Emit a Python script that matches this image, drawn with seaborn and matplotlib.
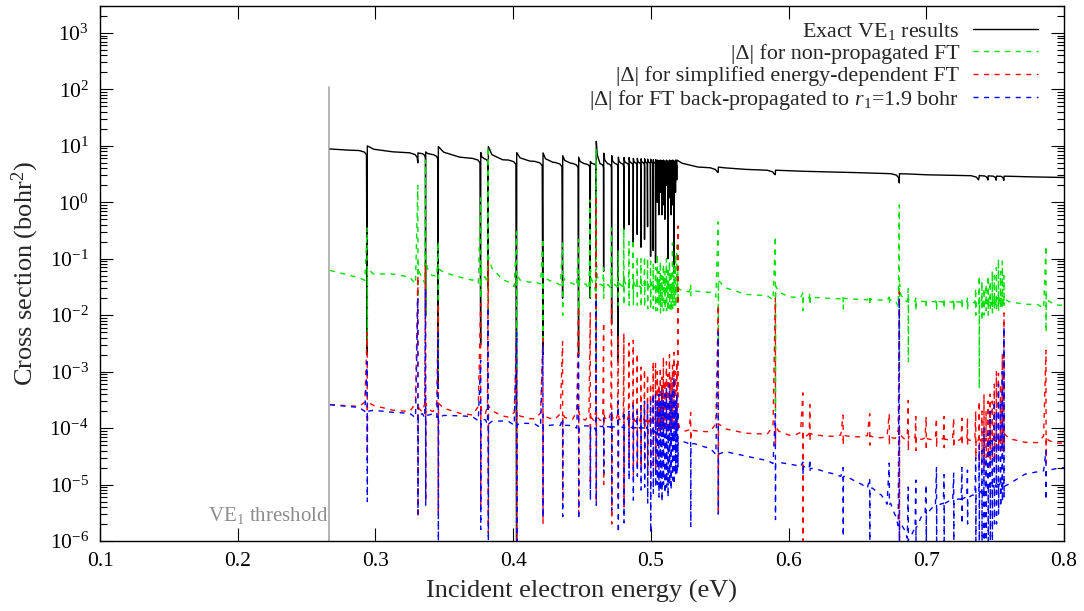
import numpy as np
import pandas as pd
import matplotlib
matplotlib.use("Agg")
import matplotlib.pyplot as plt
import seaborn as sns
from matplotlib.ticker import FixedLocator, LogLocator, NullFormatter, LogFormatterMathtext

nan = np.nan

# ---------------- data ----------------
# smooth backgrounds (energy in eV, cross section in bohr^2)
black_knot_E = [0.267, 0.28, 0.31, 0.33, 0.345, 0.37, 0.39, 0.41, 0.43, 0.45, 0.47, 0.50, 0.52, 0.535, 0.55, 0.59, 0.65, 0.70, 0.75, 0.80]
black_knot_v = [8.8, 8.4, 7.9, 7.4, 6.9, 6.0, 5.7, 5.4, 5.1, 4.8, 4.8, 5.1, 4.6, 4.2, 4.0, 3.65, 3.35, 3.07, 2.9, 2.75]

green_knot_E = [0.267, 0.29, 0.31, 0.33, 0.35, 0.37, 0.385, 0.40, 0.42, 0.45, 0.50, 0.52, 0.55, 0.60, 0.70, 0.735, 0.757, 0.80]
green_knot_v = [0.062, 0.045, 0.055, 0.045, 0.055, 0.042, 0.05, 0.036, 0.04, 0.036, 0.032, 0.027, 0.025, 0.021, 0.0175, 0.017, 0.016, 0.015]

red_knot_E = [0.267, 0.29, 0.30, 0.327, 0.35, 0.371, 0.385, 0.40, 0.42, 0.45, 0.50, 0.52, 0.55, 0.60, 0.65, 0.70, 0.735, 0.757, 0.80]
red_knot_v = [2.6e-4, 2.4e-4, 2.2e-4, 1.95e-4, 2.0e-4, 1.7e-4, 1.8e-4, 1.5e-4, 1.45e-4, 1.4e-4, 1.3e-4, 9e-5, 8.5e-5, 7.5e-5, 7e-5, 6.3e-5, 6e-5, 5.7e-5, 5.4e-5]

blue_knot_E = [0.267, 0.29, 0.297, 0.33, 0.345, 0.37, 0.38, 0.40, 0.42, 0.45, 0.50, 0.505, 0.52, 0.55, 0.58, 0.61, 0.64, 0.66, 0.672, 0.677, 0.684, 0.688, 0.695, 0.705, 0.715, 0.73, 0.737, 0.745, 0.757, 0.76, 0.787, 0.80]
blue_knot_v = [2.6e-4, 2.3e-4, 2.0e-4, 1.8e-4, 1.75e-4, 1.6e-4, 1.4e-4, 1.3e-4, 1.15e-4, 1.1e-4, 1.0e-4, 8e-5, 6e-5, 4e-5, 2.8e-5, 2.1e-5, 1.4e-5, 8.5e-6, 5.5e-6, 3e-6, 1.6e-6, 1.1e-6, 2.5e-6, 4e-6, 5e-6, 6e-6, 7e-6, 9e-6, 1.1e-5, 1.35e-5, 1.8e-5, 2e-5]

# resonance positions (eV) and extreme values of each curve there
res_E = [0.2941, 0.3309, 0.3365, 0.3457, 0.3765, 0.3820, 0.4026, 0.4217, 0.4360, 0.4476,
         0.4561, 0.4604, 0.4658, 0.4716, 0.4764, 0.4805, 0.4842, 0.4873, 0.4902, 0.4929,
         0.4955, 0.4977, 0.4999, 0.5018, 0.5035,
         0.5048, 0.5059, 0.5070, 0.5081, 0.5092, 0.5103, 0.5114, 0.5125, 0.5136, 0.5147,
         0.5158, 0.5169, 0.5180, 0.5189, 0.5197,
         0.5290, 0.5490, 0.5905, 0.6105, 0.6156, 0.6397, 0.6590, 0.6732, 0.6805, 0.6870,
         0.6925, 0.7000, 0.7075, 0.7130, 0.7200, 0.7260, 0.7300,
         0.7360, 0.7385, 0.7405, 0.7420, 0.7435, 0.7450, 0.7465, 0.7480, 0.7495, 0.7510,
         0.7525, 0.7540, 0.7553, 0.7565, 0.7870]

black_lo = [2e-3, 5.0, 1e-2, 5e-4, 3e-3, 0.03, 5e-7, 2e-3, 0.02, 2e-3,
            0.02, 0.1, 0.06, 7e-3, 1.5e-3, 0.33, 0.4, 0.18, 0.27, 0.16,
            0.22, 0.37, 0.11, 0.14, 0.085,
            1.0, 0.6, 1.5, 0.6, 0.9, 0.5, 2.0, 0.1, 1.2, 0.6,
            0.9, 0.057, 1.5, 2.5, nan,
            nan, 3.4, 3.1, nan, nan, nan, nan, nan, 2.2, nan,
            nan, nan, nan, nan, nan, nan, nan,
            nan, 2.8, nan, nan, nan, 2.85, nan, nan, nan, 2.85,
            nan, nan, nan, 2.75, nan]
black_hi = [10, 7.5, 7.8, 9.7, 7.6, 9.7, 7.6, 7.5, 6.7, 6.3,
            5.3, 12, 7.4, 6.7, 6.3, 6.2, 6.2, 6.0, 6.0, 5.9,
            5.9, 5.8, 5.8, 5.7, 5.7,
            5.6, 5.5, 5.6, 5.5, 5.6, 5.4, 5.6, 5.4, 5.6, 5.5,
            5.6, 5.4, 5.6, 5.6, nan,
            nan, 4.2, 3.7, nan, nan, nan, nan, nan, 3.2, nan,
            nan, nan, nan, nan, nan, nan, nan,
            nan, 3.0, nan, nan, nan, 2.95, nan, nan, nan, 2.9,
            nan, nan, nan, 2.9, nan]

green_lo = [3e-3, 0.02, 0.01, 1e-3, 0.02, 0.01, 1e-3, 2e-3, 0.01, 0.01,
            0.02, 1e-3, 0.02, 0.02, 0.015, 0.015, 0.015, 0.015, 0.015, 0.014,
            0.014, 0.013, 0.013, 0.013, 0.012,
            0.012, 0.015, 0.011, 0.014, 0.012, 0.013, 0.012, 0.012, 0.013, 0.012,
            0.013, 0.015, 0.014, 0.015, 0.02,
            0.022, 3e-3, 2e-4, 0.012, 0.015, 0.013, 0.015, 0.016, 1e-3, 1.5e-3,
            0.012, 0.013, 0.012, 0.013, 0.012, 0.013, 0.012,
            0.01, 5e-4, 0.008, 0.01, 0.012, 0.01, 0.012, 0.011, 0.012, 0.013,
            0.012, 0.014, 0.014, 0.015, 5e-3]
green_hi = [0.35, 2.0, 5.6, 0.2, 1.2, 9.7, 0.3, 0.23, 0.19, 0.22,
            1.1, 9.0, 0.07, 0.35, 0.14, 0.35, 0.2, 0.22, 0.11, 0.1,
            0.11, 0.1, 0.09, 0.08, 0.07,
            0.12, 0.06, 0.09, 0.05, 0.08, 0.06, 0.1, 0.07, 0.09, 0.06,
            0.19, 0.08, 0.12, 0.17, 0.06,
            0.035, 0.45, 0.25, 0.025, 0.025, 0.022, 0.022, 0.021, 0.9, 0.03,
            0.02, 0.02, 0.02, 0.02, 0.02, 0.02, 0.02,
            0.03, 0.05, 0.04, 0.03, 0.035, 0.05, 0.04, 0.06, 0.05, 0.07,
            0.1, 0.06, 0.09, 0.05, 0.17]

red_lo = [2.7e-5, 2.6e-6, 5e-6, 3e-6, 4e-6, 1.4e-6, 8e-7, 2e-6, 5e-6, 3e-6,
          1e-5, 4.7e-6, 1e-5, 2e-6, 5e-6, 4e-6, 2e-5, 1.5e-5, 2e-5, 2e-5,
          2e-5, 1.5e-5, 1e-5, 2e-5, 2e-5,
          8e-5, 9e-5, 8e-5, 1e-4, 8e-5, 1e-4, 9e-5, 8e-5, 1e-4, 9e-5,
          1e-4, 9e-5, 1e-4, 1e-4, 1e-4,
          6e-5, 3e-6, 5e-5, 8e-7, 6e-5, 5e-5, 5e-5, 5e-5, 8e-7, 4e-5,
          4e-5, 4e-5, 4.5e-5, 4.5e-5, 4.5e-5, 5e-5, 5e-5,
          3e-5, 2e-5, 3e-5, 2e-5, 3e-5, 3e-5, 2e-5, 3e-5, 3e-5, 3e-5,
          4e-5, 4e-5, 4e-5, 4e-5, 2.4e-5]
red_hi = [5e-3, 0.05, 0.077, 0.016, 0.016, 0.09, 3.9e-3, 3.9e-3, 3.4e-3, 0.014,
          0.011, 1.3, 7.5e-3, 0.018, 4.4e-3, 4.8e-3, 3.2e-3, 3.6e-3, 2.1e-3, 1.2e-3,
          1.1e-3, 9e-4, 6.2e-4, 1.5e-3, 1.4e-3,
          1e-3, 6e-4, 1.2e-3, 8e-4, 1.8e-3, 7e-4, 1.5e-3, 9e-4, 2e-3, 8e-4,
          1.3e-3, 2.2e-3, 1e-3, 1.5e-3, 0.38,
          1.9e-4, 0.015, 0.02, 4.2e-4, 2.6e-4, 1.7e-4, 1.8e-4, 1.8e-4, 0.026, 3.1e-4,
          1.6e-4, 1.6e-4, 1.5e-4, 1.6e-4, 1.5e-4, 1.5e-4, 1.5e-4,
          2e-4, 3e-4, 2e-4, 4e-4, 2e-4, 3e-4, 4e-4, 3e-4, 6e-4, 1e-3,
          9.4e-4, 6e-4, 2e-3, 0.011, 2.4e-3]

blue_lo = [5e-6, 3e-6, 4.3e-6, 8e-7, 1.6e-6, 8e-7, 8e-7, 2.6e-6, 2.7e-6, 2.4e-6,
           5.3e-6, 4.3e-6, 1.6e-5, 3.5e-6, 1.4e-6, 2.1e-6, 1.2e-5, 5.3e-6, 1.4e-5, 8e-6,
           9e-6, 4.7e-6, 1.4e-6, 7e-6, 9e-6,
           1e-5, 6e-6, 8e-6, 5e-6, 1e-5, 7e-6, 9e-6, 6e-6, 1e-5, 8e-6,
           1.2e-5, 1e-5, 1.5e-5, 1.5e-5, 2e-5,
           1.8e-6, 3e-6, 2.4e-6, 1.5e-5, 1.7e-5, 1.2e-6, 8e-7, 5e-6, 8e-7, 8e-7,
           8e-7, 8e-7, 1e-6, 1e-6, 1e-6, 2e-6, 2e-6,
           8e-7, 8e-7, 8e-7, 8e-7, 1e-6, 8e-7, 1e-6, 8e-7, 2e-6, 2e-6,
           3e-6, 4e-6, 5e-6, 6e-6, 5.3e-6]
blue_hi = [1.5e-3, 0.02, 0.03, 5e-3, 1.6e-3, 0.014, 5e-3, 3e-3, 1.5e-4, 2e-3,
           1e-4, 0.02, 1.5e-4, 2e-4, 3e-4, 2e-4, 2e-4, 2.5e-4, 2e-4, 2.5e-4,
           3e-4, 3e-4, 3e-4, 4e-4, 4e-4,
           3e-4, 4e-4, 3e-4, 5e-4, 3e-4, 4e-4, 5e-4, 3e-4, 6e-4, 4e-4,
           5e-4, 8e-4, 3e-4, 4e-4, 2e-4,
           6e-5, 5e-3, 1.8e-4, 2.5e-5, 2.8e-5, 2e-5, 1.3e-5, 2.4e-5, 0.02, 9e-6,
           1.2e-5, 1e-5, 2e-5, 1.5e-5, 1.6e-5, 2e-5, 1.8e-5,
           3e-5, 5e-5, 4e-5, 1e-4, 3e-5, 8e-5, 2e-4, 6e-5, 3e-4, 2e-4,
           6e-4, 3e-4, 1e-3, 6.2e-3, 4e-5]

threshold_E = 0.2665
threshold_top = 110.0

x_ticks = [0.1, 0.2, 0.3, 0.4, 0.5, 0.6, 0.7, 0.8]
y_ticks = [1e-6, 1e-5, 1e-4, 1e-3, 1e-2, 1e-1, 1e0, 1e1, 1e2, 1e3]

labels = ["Exact VE$_1$ results",
          "|Δ| for non-propagated FT",
          "|Δ| for simplified energy-dependent FT",
          "|Δ| for FT back-propagated to $r_1$=1.9 bohr"]
colors = ["#000000", "#00e000", "#ff0000", "#0000ff"]

# ---------------- curve assembly ----------------
D = 0.0001


def assemble(kE, kV, lo, hi, kind, pre=1.0, post=1.0):
    kE = np.asarray(kE, float)
    kV = np.asarray(kV, float)
    logk = np.log10(kV)

    def base(x):
        return 10 ** np.interp(x, kE, logk)

    E = np.asarray(res_E, float)
    lo = np.asarray(lo, float)
    hi = np.asarray(hi, float)
    m = ~np.isnan(lo)
    E, lo, hi = E[m], lo[m], hi[m]
    prevE = np.r_[kE[0], E[:-1]]
    nextE = np.r_[E[1:], kE[-1]]
    wb = np.minimum(0.006, 0.4 * (E - prevE))
    wa = np.minimum(0.02, 0.5 * (nextE - E))
    pts = []
    for x, v in zip(kE, kV):
        if not np.any((x >= E - wb) & (x <= E + wa)):
            pts.append((x, v))
    for e, l, h, b1, a1 in zip(E, lo, hi, wb, wa):
        b = base(e)
        if kind == "black":
            seq = [(e - b1, base(e - b1)), (e - 0.35 * b1, b * 0.95), (e - 0.1 * b1, b * 0.85),
                   (e - D, l), (e, h), (e + 0.25 * a1, b + (h - b) * 0.3), (e + a1, base(e + a1))]
        else:
            s = np.clip(np.log10(h / b) / 2.0, 0, 1)
            pe, po = pre ** s, post ** s
            seq = [(e - b1, base(e - b1)), (e - 0.3 * b1, b * pe), (e - D, h), (e, l),
                   (e + D, b * po), (e + 0.25 * a1, b * (1 + (po - 1) * 0.35)), (e + a1, base(e + a1))]
        pts += seq
    pts.sort(key=lambda p: p[0])
    return pd.DataFrame(pts, columns=["E", "sigma"])


curves = [
    assemble(black_knot_E, black_knot_v, black_lo, black_hi, "black"),
    assemble(green_knot_E, green_knot_v, green_lo, green_hi, "g", pre=0.75, post=2.2),
    assemble(red_knot_E, red_knot_v, red_lo, red_hi, "r", pre=1.4, post=1.4),
    assemble(blue_knot_E, blue_knot_v, blue_lo, blue_hi, "b", pre=0.85, post=0.85),
]

# ---------------- drawing ----------------
sns.set_style("ticks")
plt.rcParams.update({
    "font.family": ["Liberation Serif", "DejaVu Serif"],
    "mathtext.fontset": "custom",
    "mathtext.rm": "Liberation Serif",
    "mathtext.it": "Liberation Serif:italic",
    "mathtext.bf": "Liberation Serif:bold",
    "axes.unicode_minus": False,
})

fig = plt.figure(figsize=(10.84, 6.11), dpi=100)
ax = fig.add_axes([100 / 1084, 1 - 541 / 611, 964 / 1084, 535 / 611])
ax.set_yscale("log")

ax.plot([threshold_E, threshold_E], [1e-7, threshold_top], color="#a8a8a8", lw=1.2, zorder=1)
ax.text(threshold_E - 0.0005, 2.3e-6, "VE$_1$ threshold", ha="right", va="baseline",
        color="#8c8c8c", fontsize=15)

handles = []
for i, (df, lab, col) in enumerate(zip(curves, labels, colors)):
    sns.lineplot(data=df, x="E", y="sigma", estimator=None, sort=False, ax=ax,
                 color=col, lw=1.0, legend=False, zorder=2 + i)
    ln = ax.lines[-1]
    if i > 0:
        ln.set_linestyle((0, (3.6, 4.0)))
    ln.set_label(lab)
    handles.append(ln)

ax.set_xlim(0.1, 0.8)
ax.set_ylim(1e-6, 3000)
ax.xaxis.set_major_locator(FixedLocator(x_ticks))
ax.set_xticklabels([f"{v:.1f}" for v in x_ticks])
ax.yaxis.set_major_locator(FixedLocator(y_ticks))
ax.yaxis.set_major_formatter(LogFormatterMathtext())
ax.yaxis.set_minor_locator(LogLocator(base=10, subs=np.arange(2, 10), numticks=30))
ax.yaxis.set_minor_formatter(NullFormatter())

ax.tick_params(which="both", direction="in", top=True, right=True, width=0.8, colors="black")
ax.tick_params(which="major", length=9.5, labelsize=15.5, pad=8)
ax.tick_params(which="minor", length=5)
for sp in ax.spines.values():
    sp.set_linewidth(1.0)
    sp.set_color("black")

ax.set_xlabel("Incident electron energy (eV)", fontsize=19, labelpad=6)
ax.set_ylabel("Cross section (bohr$^2$)", fontsize=19, labelpad=6)

leg = ax.legend(handles=handles, loc="upper right", bbox_to_anchor=(0.973, 0.972),
                markerfirst=False, frameon=False, fontsize=15.8, handlelength=2.95,
                handletextpad=0.64, labelspacing=0.08, borderpad=0.0, borderaxespad=0)

fig.savefig("out.png", dpi=100)
